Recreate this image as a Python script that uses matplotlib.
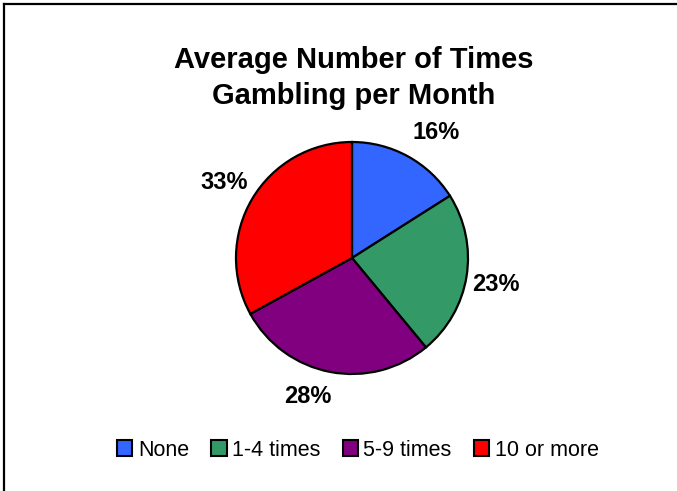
import matplotlib
matplotlib.use("Agg")
import matplotlib.pyplot as plt
from matplotlib.lines import Line2D
from matplotlib.patches import Patch

plt.rcParams['font.family'] = ['Liberation Sans', 'DejaVu Sans']

categories = ["None", "1-4 times", "5-9 times", "10 or more"]
shares = [16, 23, 28, 33]
colors = ["#3366FF", "#339966", "#800080", "#FF0000"]
# small nudges for the percentage labels (axes data units)
label_nudge = [(0.11, -0.04), (-0.02, -0.03), (-0.14, 0.06), (0.0, 0.0)]

W, H = 677, 491
fig = plt.figure(figsize=(W / 100, H / 100), dpi=100)

# pie axes: center (352, 258), radius 116 px
cx, cy, r = 352, 258, 116
ax = fig.add_axes([(cx - r) / W, (H - cy - r) / H, 2 * r / W, 2 * r / H])
wedges, texts, autotexts = ax.pie(
    shares, colors=colors, startangle=90, counterclock=False,
    autopct='%d%%', pctdistance=1.28,
    wedgeprops=dict(edgecolor='black', linewidth=1.6),
)
for t, (dx, dy) in zip(autotexts, label_nudge):
    x, y = t.get_position()
    t.set_position((x + dx, y + dy))
    t.set_fontsize(17)
    t.set_fontweight('bold')
ax.set_xlim(-1, 1)
ax.set_ylim(-1, 1)
ax.set_aspect('equal')
ax.axis('off')

fig.text(354 / W, 1 - 78 / H, "Average Number of Times\nGambling per Month",
         ha='center', va='center', fontsize=21, fontweight='bold', linespacing=1.32)

handles = [Patch(facecolor=c, edgecolor='black', linewidth=1.5) for c in colors]
fig.legend(handles, categories, loc='center', bbox_to_anchor=(358 / W, 1 - 450 / H),
           ncol=4, frameon=False, fontsize=15.5, handlelength=0.7, handleheight=0.7,
           handletextpad=0.25, columnspacing=1.05)

# chart frame, top and left edges
fig.add_artist(Line2D([4 / W, 1], [1 - 4 / H, 1 - 4 / H], color='black', lw=1.6))
fig.add_artist(Line2D([4 / W, 4 / W], [0, 1 - 4 / H], color='black', lw=1.6))

fig.savefig("out.png", dpi=100)
